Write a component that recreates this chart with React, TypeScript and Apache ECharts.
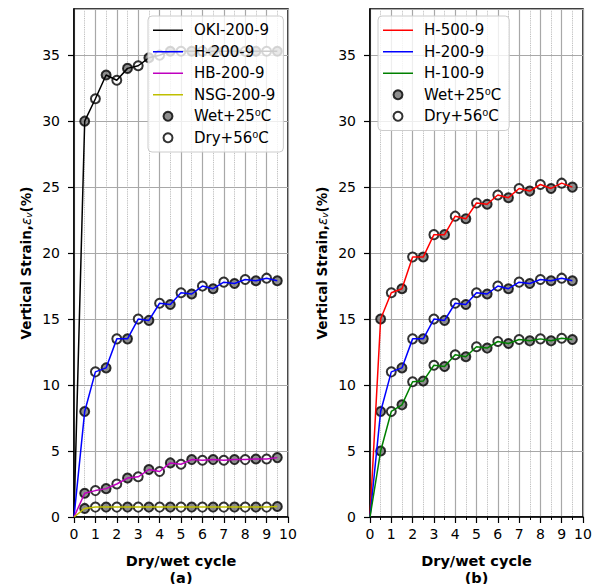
import { useEffect, useRef } from "react";
import * as echarts from "echarts";

const cycles = [0, 0.5, 1, 1.5, 2, 2.5, 3, 3.5, 4, 4.5, 5, 5.5, 6, 6.5, 7, 7.5, 8, 8.5, 9, 9.5];

const oki200 = [0, 30.0, 31.7, 33.5, 33.1, 34.0, 34.2, 34.8, 35.0, 35.3, 35.3, 35.3, 35.3, 35.3, 35.3, 35.3, 35.3, 35.3, 35.3, 35.3];
const h200 = [0, 8.0, 11.0, 11.3, 13.5, 13.5, 15.0, 14.9, 16.2, 16.1, 17.0, 16.9, 17.5, 17.3, 17.8, 17.7, 18.0, 17.9, 18.1, 17.9];
const hb200 = [0, 1.8, 2.0, 2.15, 2.5, 2.95, 3.05, 3.6, 3.45, 4.1, 4.0, 4.35, 4.3, 4.35, 4.3, 4.35, 4.35, 4.4, 4.4, 4.5];
const nsg200 = [0, 0.65, 0.75, 0.75, 0.75, 0.75, 0.75, 0.75, 0.75, 0.75, 0.75, 0.75, 0.75, 0.75, 0.75, 0.75, 0.75, 0.75, 0.75, 0.8];
const h500 = [0, 15.0, 17.0, 17.3, 19.7, 19.7, 21.4, 21.4, 22.8, 22.6, 23.8, 23.7, 24.4, 24.2, 24.9, 24.7, 25.2, 24.9, 25.3, 25.0];
const h100 = [0, 5.0, 8.0, 8.5, 10.25, 10.3, 11.5, 11.4, 12.3, 12.15, 12.9, 12.8, 13.3, 13.15, 13.45, 13.35, 13.5, 13.35, 13.55, 13.45];

const xTicks = ["0", "1", "2", "3", "4", "5", "6", "7", "8", "9", "10"];
const WET = "Wet+25⁰C";
const DRY = "Dry+56⁰C";

const FONT = "DejaVu Sans";

type Curve = { name: string; color: string; values: number[]; grid: number };

const curves: Curve[] = [
  { name: "OKI-200-9", color: "#000000", values: oki200, grid: 0 },
  { name: "H-200-9", color: "#0000ff", values: h200, grid: 0 },
  { name: "HB-200-9", color: "#bf00bf", values: hb200, grid: 0 },
  { name: "NSG-200-9", color: "#bfbf00", values: nsg200, grid: 0 },
  { name: "H-500-9", color: "#ff0000", values: h500, grid: 1 },
  { name: "H-200-9", color: "#0000ff", values: h200, grid: 1 },
  { name: "H-100-9", color: "#008000", values: h100, grid: 1 },
];

export default function App() {
  const ref = useRef<HTMLDivElement>(null);
  useEffect(() => {
    const chart = echarts.init(ref.current!, null, { renderer: "svg" });

    const makeX = (gridIndex: number, label: string) => ({
      type: "value",
      gridIndex,
      min: 0,
      max: 10,
      interval: 1,
      axisLine: { show: true, onZero: false, lineStyle: { color: "#000", width: 1.5 } },
      axisTick: { show: true, inside: false, length: 6, lineStyle: { color: "#000", width: 1.2 } },
      minorTick: { show: true, splitNumber: 2, length: 3, lineStyle: { color: "#000", width: 1 } },
      splitLine: { show: true, lineStyle: { color: "#a8a8a8", width: 1.2 } },
      minorSplitLine: { show: true, lineStyle: { color: "#b0b0b0", width: 0.9, type: "dotted" } },
      axisLabel: {
        color: "#000",
        fontSize: 14,
        fontFamily: FONT,
        margin: 10,
        formatter: (v: number) => xTicks[Math.round(v)] ?? "",
      },
      name: "Dry/wet cycle\n" + label,
      nameLocation: "middle",
      nameGap: 35,
      nameTextStyle: { color: "#000", fontWeight: "bold", fontSize: 14.5, lineHeight: 17, fontFamily: FONT },
    });

    const makeY = (gridIndex: number) => ({
      type: "value",
      gridIndex,
      min: 0,
      max: 38.5,
      interval: 5,
      axisLine: { show: true, onZero: false, lineStyle: { color: "#000", width: 1.5 } },
      axisTick: { show: true, inside: false, length: 6, lineStyle: { color: "#000", width: 1.2 } },
      splitLine: { show: true, lineStyle: { color: "#a8a8a8", width: 1.2 } },
      axisLabel: { color: "#000", fontSize: 14, fontFamily: FONT, margin: 14, showMaxLabel: false },
      name: "{b|Vertical Strain,}{e|ε}{s|v}{b|(%)}",
      nameLocation: "middle",
      nameGap: 41,
      nameTextStyle: {
        color: "#000",
        rich: {
          b: { fontWeight: "bold", fontSize: 13.5, fontFamily: FONT, color: "#000" },
          e: { fontStyle: "italic", fontSize: 13.5, fontFamily: FONT, color: "#000" },
          s: { fontStyle: "italic", fontSize: 9, fontFamily: FONT, color: "#000", verticalAlign: "bottom", padding: [6, 0, 0, 0] },
        },
      },
    });

    const series: any[] = [];
    curves.forEach((c) => {
      const pts = cycles.map((x, i) => [x, c.values[i]]);
      series.push({
        type: "line",
        name: c.name,
        xAxisIndex: c.grid,
        yAxisIndex: c.grid,
        data: pts,
        showSymbol: false,
        symbol: "none",
        lineStyle: { color: c.color, width: 1.5 },
        itemStyle: { color: c.color },
        z: 3,
      });
      series.push({
        type: "scatter",
        name: WET,
        xAxisIndex: c.grid,
        yAxisIndex: c.grid,
        data: pts.filter((_, i) => i % 2 === 1),
        symbol: "circle",
        symbolSize: 9,
        itemStyle: { color: "#707070", borderColor: "#000", borderWidth: 2 },
        z: 2,
      });
      series.push({
        type: "scatter",
        name: DRY,
        xAxisIndex: c.grid,
        yAxisIndex: c.grid,
        data: pts.filter((_, i) => i > 0 && i % 2 === 0),
        symbol: "circle",
        symbolSize: 9,
        itemStyle: { color: "#ffffff", borderColor: "#000", borderWidth: 2 },
        z: 2,
      });
    });

    const lineIcon = "path://M0,0H30V1.5H0Z";
    const legendCommon = {
      orient: "vertical",
      itemWidth: 30,
      itemHeight: 9,
      itemGap: 5,
      padding: [6, 8, 6, 5],
      backgroundColor: "rgba(255,255,255,0.8)",
      borderColor: "#cccccc",
      borderWidth: 1,
      borderRadius: 4,
      selectedMode: false,
      textStyle: { fontSize: 15, color: "#000", fontFamily: FONT, lineHeight: 16.5, padding: [0, 0, 0, 6] },
    };

    chart.setOption({
      animation: false,
      backgroundColor: "#ffffff",
      grid: [
        { left: 74, top: 9, width: 214, height: 508, outerBoundsMode: "none", containLabel: false, show: true, borderColor: "#000", borderWidth: 1.5, backgroundColor: "transparent" },
        { left: 370, top: 9, width: 213, height: 508, outerBoundsMode: "none", containLabel: false, show: true, borderColor: "#000", borderWidth: 1.5, backgroundColor: "transparent" },
      ],
      xAxis: [makeX(0, "(a)"), makeX(1, "(b)")],
      yAxis: [makeY(0), makeY(1)],
      legend: [
        {
          ...legendCommon,
          left: 148,
          top: 16,
          data: [
            { name: "OKI-200-9", icon: lineIcon },
            { name: "H-200-9", icon: lineIcon },
            { name: "HB-200-9", icon: lineIcon },
            { name: "NSG-200-9", icon: lineIcon },
            { name: WET, icon: "circle" },
            { name: DRY, icon: "circle" },
          ],
        },
        {
          ...legendCommon,
          left: 378,
          top: 16,
          data: [
            { name: "H-500-9", icon: lineIcon },
            { name: "H-200-9", icon: lineIcon },
            { name: "H-100-9", icon: lineIcon },
            { name: WET, icon: "circle" },
            { name: DRY, icon: "circle" },
          ],
        },
      ],
      series,
    });
    return () => chart.dispose();
  }, []);
  return (
    <div
      ref={ref}
      style={{ position: "fixed", left: 0, top: 0, width: 602, height: 584, background: "#fff" }}
    />
  );
}
